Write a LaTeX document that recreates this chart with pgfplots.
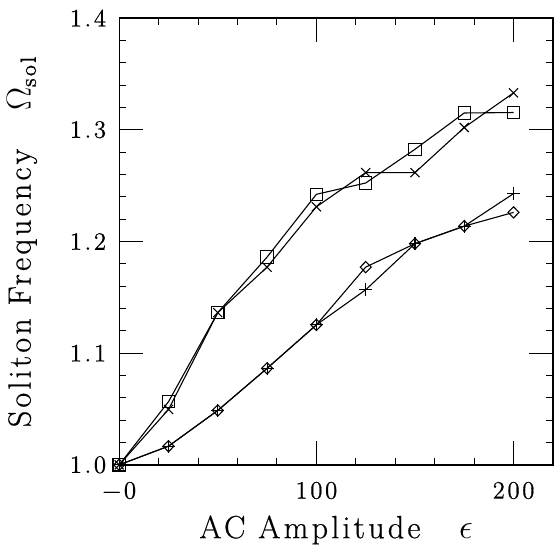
\documentclass[border=0pt]{standalone}
\usepackage{fontspec}
\newfontfamily\lblfont{Latin Modern Roman}[LetterSpace=10,FakeBold=0.6]
\newfontfamily\tckfont{Latin Modern Roman}[LetterSpace=10,FakeBold=0.6]
\usepackage{pgfplots}
\pgfplotsset{compat=1.18}
\begin{document}
\begin{tikzpicture}
\begin{axis}[
  scale only axis,
  width=216.5pt, height=223pt,
  xmin=0, xmax=220, ymin=1.0, ymax=1.4,
  xtick={0,100,200}, xticklabels={{−0},100,200},
  ytick={1.0,1.1,1.2,1.3,1.4}, yticklabels={1.0,1.1,1.2,1.3,1.4},
  minor x tick num=4, minor y tick num=4,
  tick align=inside,
  major tick length=12pt, minor tick length=3.5pt,
  every tick/.style={line width=0.5pt},
  axis line style={line width=0.7pt},
  /pgf/number format/assume math mode=true,
  tick label style={font=\tckfont\fontsize{12.5}{15}\selectfont},
  xticklabel style={yshift=-5pt},
  yticklabel style={xshift=-3pt},
  xlabel={AC Amplitude\ \ \ $\epsilon$},
  ylabel={Soliton Frequency\ \ \ $\Omega_{\mbox{\lblfont\fontsize{11}{12}\selectfont sol}}$},
  label style={font=\lblfont\fontsize{16}{18}\selectfont},
  xlabel style={at={(axis description cs:0.5,0)}, anchor=center, yshift=-32.5pt},
  ylabel style={at={(axis description cs:-0.224,0.5)}, anchor=center},
  every axis plot/.append style={black, line width=0.55pt, mark options={solid, line width=0.55pt}},
]
\addplot[mark=square, mark size=3.1pt] coordinates {
(0,1.0) (25,1.0565) (50,1.1363) (75,1.186) (100,1.2422) (125,1.2523) (150,1.2825) (175,1.315) (200,1.3154)};
\addplot[mark=x, mark size=3.2pt] coordinates {
(0,1.0) (25,1.0496) (50,1.1363) (75,1.177) (100,1.231) (125,1.2616) (150,1.2616) (175,1.302) (200,1.333)};
\addplot[mark=+, mark size=3.2pt] coordinates {
(0,1.0) (25,1.0167) (50,1.0487) (75,1.0864) (100,1.1253) (125,1.1567) (150,1.198) (175,1.2137) (200,1.2428)};
\addplot[mark=diamond, mark size=2.8pt, mark options={xscale=1.3}] coordinates {
(0,1.0) (25,1.0167) (50,1.0487) (75,1.0864) (100,1.1253) (125,1.177) (150,1.198) (175,1.2137) (200,1.226)};
\end{axis}
\path ([shift={(-59.5pt,-40pt)}]current axis.south west) rectangle ([shift={(0.5pt,9pt)}]current axis.north east);
\end{tikzpicture}
\end{document}
